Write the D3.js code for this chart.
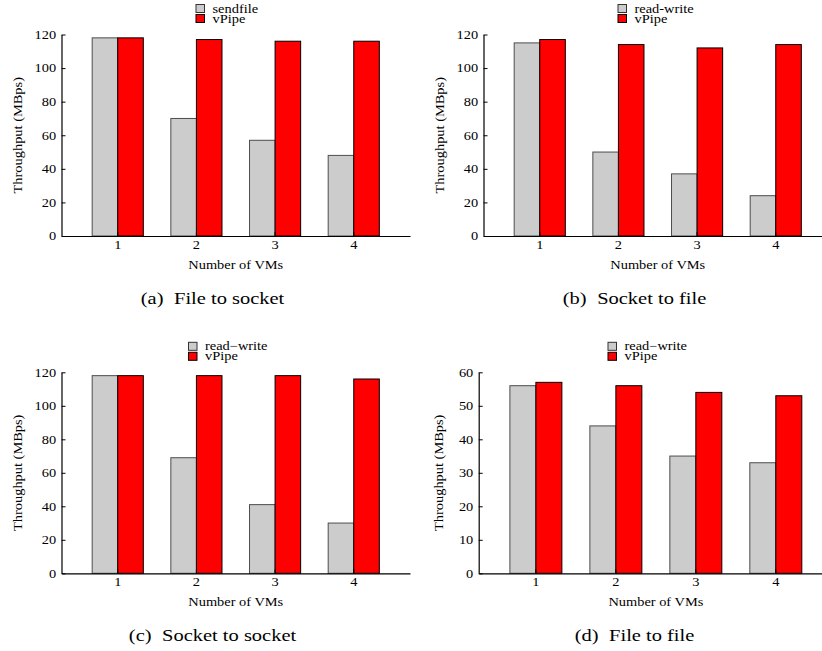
<!DOCTYPE html>
<html>
<head>
<meta charset="utf-8">
<script src="https://cdn.jsdelivr.net/npm/d3@7"></script>
<style>
  body { margin: 0; background: #fff; }
  svg { display: block; }
  text { font-family: "Liberation Serif", "Times New Roman", serif; fill: #000; }
</style>
</head>
<body>
<svg id="chart"></svg>
<script>
"use strict";

const vms = ["1", "2", "3", "4"];
const seriesNames = ["base", "vPipe"];

// (a) File to socket
const fileSocketSendfile = [118, 70, 57, 48];
const fileSocketVPipe = [118, 117, 116, 116];
// (b) Socket to file
const socketFileRW = [115, 50, 37, 24];
const socketFileVPipe = [117, 114, 112, 114];
// (c) Socket to socket
const socketSocketRW = [118, 69, 41, 30];
const socketSocketVPipe = [118, 118, 118, 116];
// (d) File to file
const fileFileRW = [56, 44, 35, 33];
const fileFileVPipe = [57, 56, 54, 53];

const ticks120 = [0, 20, 40, 60, 80, 100, 120];
const ticks60 = [0, 10, 20, 30, 40, 50, 60];

const captions = ["(a)", "(b)", "(c)", "(d)"];
const captionTexts = ["File to socket", "Socket to file", "Socket to socket", "File to file"];
const legendNames = ["sendfile", "read-write", "read\u2212write", "read\u2212write"];

const colors = { base: "#cccccc", vPipe: "#ff0000" };
const strokes = { base: "#4d4d4d", vPipe: "#000000" };
const SX = 1.2; // text in the figure is a bit wider than it is tall

const panels = [
  { base: fileSocketSendfile, vpipe: fileSocketVPipe, ticks: ticks120, left: 61.5, right: 410, top: 34.5, bottom: 236, legX: 196, labX: 22, capX: 212.5 },
  { base: socketFileRW, vpipe: socketFileVPipe, ticks: ticks120, left: 483.5, right: 832, top: 34.5, bottom: 236, legX: 618, labX: 444, capX: 634.5 },
  { base: socketSocketRW, vpipe: socketSocketVPipe, ticks: ticks120, left: 61.5, right: 410, top: 372.3, bottom: 573.3, legX: 188.5, labX: 22, capX: 212.5 },
  { base: fileFileRW, vpipe: fileFileVPipe, ticks: ticks60, left: 478.7, right: 833, top: 372.3, bottom: 573.3, legX: 608, labX: 443, capX: 634.5 }
];

const svg = d3.select("#chart").attr("width", 822).attr("height", 651);
svg.append("rect").attr("width", 822).attr("height", 651).attr("fill", "#fff");

function stretchedText(g, x, y, str, anchor, size, rot) {
  return g.append("text")
    .attr("transform", `translate(${x},${y}) rotate(${rot || 0}) scale(${SX},1)`)
    .attr("text-anchor", anchor)
    .style("font-size", size + "px")
    .text(str);
}

panels.forEach((p, i) => {
  const g = svg.append("g");

  const x0 = d3.scaleBand().domain(vms).range([p.left, p.right])
    .paddingInner(0.35).paddingOuter(0.39);
  const x1 = d3.scaleBand().domain(seriesNames).range([0, x0.bandwidth()]);
  const y = d3.scaleLinear().domain([0, d3.max(p.ticks)]).range([p.bottom, p.top]);

  const rows = vms.map((v, j) => ({ vm: v, base: p.base[j], vPipe: p.vpipe[j] }));

  // bars
  g.selectAll(".grp").data(rows).join("g")
    .attr("transform", d => `translate(${x0(d.vm)},0)`)
    .selectAll("rect")
    .data(d => seriesNames.map(s => ({ s, v: d[s] })))
    .join("rect")
    .attr("x", d => x1(d.s))
    .attr("y", d => y(d.v))
    .attr("width", x1.bandwidth())
    .attr("height", d => y(0) - y(d.v))
    .attr("fill", d => colors[d.s])
    .attr("stroke", d => strokes[d.s])
    .attr("stroke-width", 1);

  // axes
  const yAxis = g.append("g")
    .attr("transform", `translate(${p.left},0)`)
    .call(d3.axisLeft(y).tickValues(p.ticks).tickSizeInner(-4).tickSizeOuter(0).tickPadding(4.5));
  const xAxis = g.append("g")
    .attr("transform", `translate(0,${p.bottom})`)
    .call(d3.axisBottom(x0).tickSizeInner(-4).tickSizeOuter(0).tickPadding(4));

  [yAxis, xAxis].forEach(ax => {
    ax.select(".domain").attr("stroke", "#000").attr("stroke-width", 1.2);
    ax.selectAll(".tick line").attr("stroke", "#000").attr("stroke-width", 1);
    ax.selectAll(".tick text")
      .style("font-family", '"Liberation Serif", "Times New Roman", serif')
      .style("font-size", "12px")
      .attr("fill", "#000")
      .attr("transform", `scale(${SX},1)`);
  });

  // axis titles
  stretchedText(g, (p.left + p.right) / 2, p.bottom + 33, "Number of VMs", "middle", 12);
  stretchedText(g, p.labX, (p.top + p.bottom) / 2, "Throughput (MBps)", "middle", 12, -90);

  // legend
  const legTop = p.top - 30;
  const legItems = [
    { name: legendNames[i], s: "base" },
    { name: "vPipe", s: "vPipe" }
  ];
  legItems.forEach((it, k) => {
    const yy = legTop + k * 10;
    g.append("rect")
      .attr("x", p.legX).attr("y", yy)
      .attr("width", 8.5).attr("height", 8)
      .attr("fill", colors[it.s])
      .attr("stroke", k === 0 ? "#333" : "#000")
      .attr("stroke-width", 1);
    stretchedText(g, p.legX + 16.5, yy + 8, it.name, "start", 12);
  });

  // caption
  const cap = g.append("text")
    .attr("transform", `translate(${p.capX},${p.bottom + 67.5}) scale(1.17,1)`)
    .attr("text-anchor", "middle")
    .style("font-size", "17.5px");
  cap.append("tspan").text(captions[i]);
  cap.append("tspan").attr("dx", 9).text(captionTexts[i]);
});
</script>
</body>
</html>
